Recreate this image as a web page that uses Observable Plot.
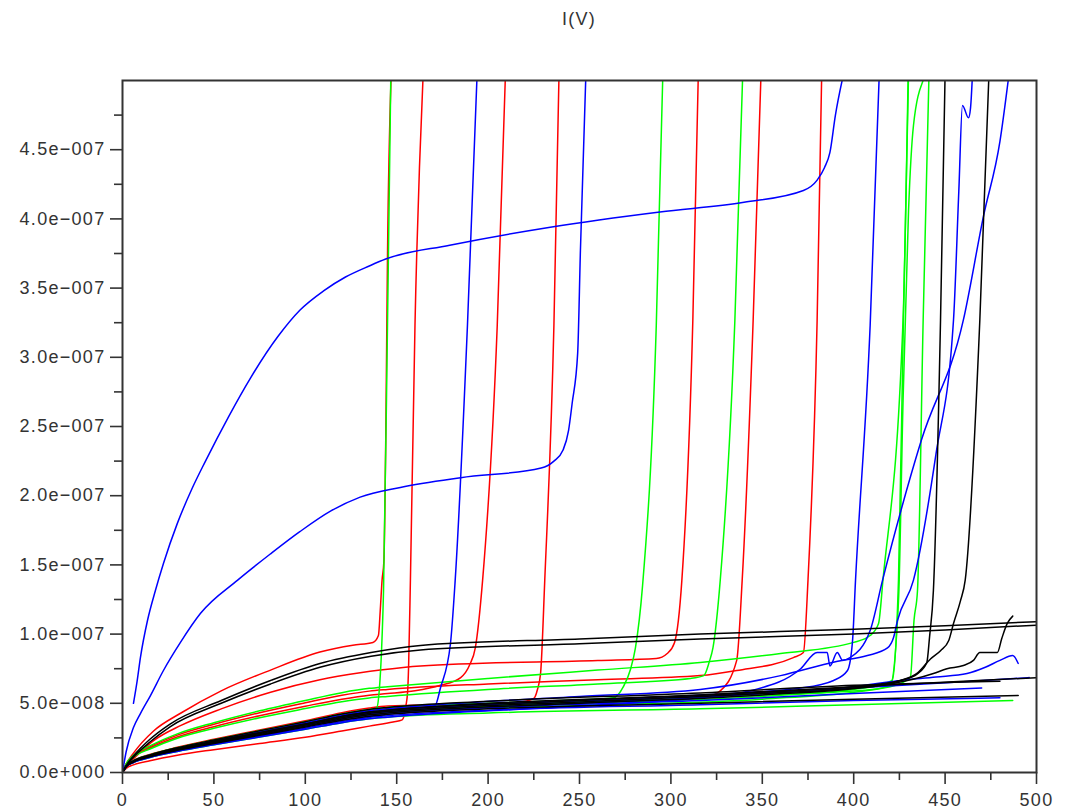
<!DOCTYPE html>
<html><head><meta charset="utf-8">
<script src="https://cdn.jsdelivr.net/npm/d3@7"></script>
<script src="https://cdn.jsdelivr.net/npm/@observablehq/plot@0.6"></script>
<style>
body{margin:0;background:#fff;font-family:"Liberation Sans",Arial,sans-serif;}
#title{height:40px;line-height:38px;width:1068px;text-align:center;padding-left:90px;box-sizing:border-box;font-size:18px;letter-spacing:1.3px;color:#333;}
</style></head><body>
<div id="title">I(V)</div>
<div id="chart"></div>
<script>
// Axis ticks and labels
const xMajor = [0,50,100,150,200,250,300,350,400,450,500];
const xLabels = ["0","50","100","150","200","250","300","350","400","450","500"];
const xMinor = [25,75,125,175,225,275,325,375,425,475];
const yMajor = [0,5e-8,1e-7,1.5e-7,2e-7,2.5e-7,3e-7,3.5e-7,4e-7,4.5e-7];
const yLabels = ["0.0e+000","5.0e\u2212008","1.0e\u2212007","1.5e\u2212007","2.0e\u2212007","2.5e\u2212007","3.0e\u2212007","3.5e\u2212007","4.0e\u2212007","4.5e\u2212007"];
const yMinor = [2.5e-8,7.5e-8,1.25e-7,1.75e-7,2.25e-7,2.75e-7,3.25e-7,3.75e-7,4.25e-7,4.75e-7];

// Curves: [V (volts), I (nA)]
const redA = [[0,0],[2,6],[6,14],[17,30],[32,43],[54,59],[81,74],[108,87],[126,92],[137,94],[140,99],[141,117],[142,139],[143,153],[144,240],[145,377],[147,505]];
const redB = [[0,0],[2,5],[6,10],[17,23],[32,34],[54,46],[81,58],[108,67],[130,72],[141,74],[163,77],[260,81],[292,82.4],[298,86],[302,94],[306,139],[312,327],[315,505]];
const redC = [[0,0],[2,3],[6,5.5],[15,8.5],[30,12.5],[50,16.5],[75,21],[100,25.5],[120,30],[135,33.5],[148,36.5],[153,38],[155,48],[156,59],[156.5,76],[157.5,139],[160,323],[164.5,505]];
const redD = [[0,0],[2,5.7],[6,11.4],[15,17.7],[30,25.7],[50,33.1],[75,41],[100,47.9],[120,53],[135,55.9],[145,57],[160,59],[174,63],[185,68.6],[190,78],[193,90],[197,139],[205,323],[209.5,505]];
const redE = [[0,0],[2,4.6],[6,8.3],[15,12.4],[30,17.5],[50,23],[75,29.4],[100,35.9],[120,41.4],[135,44.6],[145,46],[180,48],[216,50.6],[225,53.5],[227,60],[228.7,71.5],[231,139],[236,323],[238.8,505]];
const redF = [[0,0],[2,4.8],[6,8.6],[15,13],[30,18.2],[50,24],[75,30.7],[100,37.4],[120,43.2],[135,46.6],[145,48],[220,50],[300,52.5],[318,54],[327,59],[336,81],[339,139],[345,327],[349.3,505]];
const redG = [[0,0],[2,6],[6,12],[15,18.6],[30,27],[50,34.8],[75,43.2],[100,50.4],[120,55.8],[135,58.8],[145,60],[200,64],[260,67],[316,70],[336,73.7],[367,83],[372.5,86.7],[375,139],[380,327],[382.5,505]];

const greenA = [[0,0],[2,4.6],[6,8.3],[15,12.4],[30,17.5],[50,23],[75,29.4],[100,35.9],[120,41.4],[135,44.6],[139,46.5],[140.5,60],[141.7,88],[142.8,131.5],[145,327],[146.8,505]];
const greenB = [[0,0],[2,4.7],[6,8.5],[15,12.7],[30,17.9],[50,23.5],[75,30.1],[100,36.7],[120,42.3],[135,45.6],[145,47],[200,50],[250,52.5],[268.6,54],[274,62],[278,75],[280.6,90],[284.5,135],[292,323],[295.6,505]];
const greenC = [[0,0],[2,5.5],[6,11],[15,17],[30,24.8],[50,31.9],[75,39.6],[100,46.2],[120,51.2],[135,53.9],[145,55],[200,60],[260,64],[310.7,68],[318,70],[321,80],[323,90],[327,139],[335,327],[339.3,505]];
const greenD = [[0,0],[2,6.2],[6,12.4],[15,19.2],[30,27.9],[50,36],[75,44.6],[100,52.1],[120,57.7],[135,60.8],[145,62],[200,68],[260,74],[316,79.5],[360,86],[400,94],[409,99],[413.6,107.7],[416,139],[427,327],[429.8,505]];
const greenE = [[0,0],[2,4.4],[6,7.9],[15,11.9],[30,16.7],[50,22],[75,28.2],[100,34.3],[120,39.6],[135,42.7],[145,44],[250,50],[350,55],[410,62],[421,66.5],[424.5,139],[427.2,327],[430,505]];
const greenF = [[0,0],[2,4.3],[6,7.7],[15,11.6],[30,16.3],[50,21.5],[75,27.5],[100,33.5],[120,38.7],[135,41.7],[145,43],[250,48.5],[350,53],[420,62],[431,68.6],[433,110],[434.9,131.5],[438,327],[441.2,505]];
const greenG = [[0,0],[2,4.5],[6,8.1],[15,12.2],[30,17.1],[50,22.5],[75,28.8],[100,35.1],[120,40.5],[135,43.7],[145,45],[250,51],[350,56],[410,60],[420,63],[424.5,124],[427,269],[430,406],[432.7,467.5],[438,500],[440,505]];
const greenH = [[0,0],[2,4],[6,7.2],[15,10.8],[30,15.2],[50,20],[75,25.6],[100,31.2],[120,36],[135,38.8],[145,40],[200,43],[316,46],[400,49],[487,52]];

const blueA = [[6,50],[8,66],[9.8,83],[13.7,110],[18,131.5],[22.4,151],[30,180],[38,205],[45.4,225],[58,257],[70,285],[85,315],[97,334],[110,348],[122,358],[135,366],[144,371],[179,381],[234,394],[294,405],[340,412],[372.5,420.5],[380,428],[384,437],[387,448],[390,475],[394.5,505]];
const blueB = [[0,0],[2,15],[6,32.5],[9.8,42.6],[15.3,55.6],[22.4,73.7],[31.7,94],[42.7,115],[63,139],[81,158],[97,174],[114,189],[130,199],[152,206],[185,213],[229,220],[236,225],[241,233],[244,247],[246,267],[249,303],[250.5,377],[253.5,505]];
const blueC = [[0,0],[2,4.4],[6,7.9],[15,11.9],[30,16.7],[50,22],[75,28.2],[100,34.3],[120,39.6],[135,42.7],[145,44],[160,46],[171,48.4],[174,61.4],[179.4,93],[182,139],[188.7,323],[194,505]];
const blueD = [[0,0],[2,4.5],[6,8.1],[15,12.2],[30,17.1],[50,22.5],[75,28.8],[100,35.1],[120,40.5],[135,43.7],[145,45],[250,52],[316,56],[371,61],[389,66.5],[396.6,73.7],[399.3,94],[401,139],[409,323],[414,505]];
const blueE = [[0,0],[2,4],[6,7.2],[15,10.8],[30,15.2],[50,20],[75,25.6],[100,31.2],[120,36],[135,38.8],[145,40],[250,48],[316,54],[343.5,59],[371,75],[380,86.7],[385.5,86.7],[387,77],[391,86.7],[394,81],[398,83],[409,102.6],[415.8,139],[437,240],[460,327],[471,402],[480,456],[485,505]];
const blueF = [[0,0],[2,4.6],[6,8.3],[15,12.4],[30,17.5],[50,23],[75,29.4],[100,35.9],[120,41.4],[135,44.6],[145,46],[250,55],[316,60],[360,70],[390,80],[407.5,84.5],[418.5,90],[421.8,97.5],[424,110],[432.7,139],[445,230],[454.6,327],[457.5,420],[459.5,482],[462.8,473],[463.9,480],[465,505]];
const blueG = [[0,0],[2,4.2],[6,7.6],[15,11.3],[30,16],[50,21],[75,26.9],[100,32.8],[120,37.8],[135,40.7],[145,42],[250,50],[316,54],[350,57],[400,62],[425.6,66.5],[445,69],[462,71.5],[472,76],[480,81],[487,84.5],[490,78.8]];
const blueH = [[0,0],[2,4.4],[6,7.9],[15,11.9],[30,16.7],[50,22],[75,28.2],[100,34.3],[120,39.6],[135,42.7],[145,44],[200,49],[316,55],[400,61],[460,65.5],[496,68.6]];
const blueI = [[0,0],[2,4.3],[6,7.7],[15,11.6],[30,16.3],[50,21.5],[75,27.5],[100,33.5],[120,38.7],[135,41.7],[145,43],[200,47],[316,52],[400,57],[470,61]];
const blueJ = [[0,0],[2,4.1],[6,7.4],[15,11.1],[30,15.6],[50,20.5],[75,26.2],[100,32],[120,36.9],[135,39.8],[145,41],[200,45],[316,49],[400,52],[480,54]];

const blackA = [[0,0],[2,5],[6,12],[15,24],[26,35],[54,52],[81,66.5],[108,78.8],[136,86.7],[163,91.8],[250,96.5],[316,100],[400,103.5],[450,106],[500,109]];
const blackB = [[0,0],[2,4.5],[6,11],[15,22],[26,33],[54,50],[81,64],[108,76],[136,84],[163,88.5],[250,93],[316,96.5],[400,100],[450,103],[500,106.5]];
const blackC = [[0,0],[2,4.5],[6,8.1],[15,12.2],[30,17.1],[50,22.5],[75,28.8],[100,35.1],[120,40.5],[135,43.7],[145,45],[250,52],[350,58],[400,62],[425.6,66.5],[435,71.5],[440,79.5],[441.5,98],[443.6,131.5],[447.5,327],[450,505]];
const blackD = [[0,0],[2,4.4],[6,7.9],[15,11.9],[30,16.7],[50,22],[75,28.2],[100,34.3],[120,39.6],[135,42.7],[145,44],[250,51],[350,57],[400,61],[425.6,66.5],[435,72],[442,82],[447.5,88],[452,95.4],[454.6,107.7],[458.4,124],[461,139],[469,327],[474,505]];
const blackE = [[0,0],[2,4.3],[6,7.7],[15,11.6],[30,16.3],[50,21.5],[75,27.5],[100,33.5],[120,38.7],[135,41.7],[145,43],[250,50],[350,56],[420,64],[443.6,71.5],[451,75],[460,77.3],[465.5,81],[469,86.7],[478.6,86.7],[481,96.8],[484,107.7],[487,113]];
const blackF = [[0,0],[2,4.5],[6,8.1],[15,12.2],[30,17.1],[50,22.5],[75,28.8],[100,35.1],[120,40.5],[135,43.7],[145,45],[200,50],[316,56],[400,62],[460,66],[500,68.5]];
const blackG = [[0,0],[2,4.2],[6,7.6],[15,11.3],[30,16],[50,21],[75,26.9],[100,32.8],[120,37.8],[135,40.7],[145,42],[200,46],[316,50],[400,53],[490,55.6]];
const blackH = [[0,0],[2,4.7],[6,8.5],[15,12.7],[30,17.9],[50,23.5],[75,30.1],[100,36.7],[120,42.3],[135,45.6],[145,47],[200,51.5],[316,57.5],[400,63],[480,66]];

const redSeries = [redA, redB, redC, redD, redE, redF, redG];
const greenSeries = [greenA, greenB, greenC, greenD, greenE, greenF, greenG, greenH];
const blueSeries = [blueA, blueB, blueC, blueD, blueE, blueF, blueG, blueH, blueI, blueJ];
const blackSeries = [blackA, blackB, blackC, blackD, blackE, blackF, blackG, blackH];

const groups = [["#ff0000", redSeries], ["#00ff00", greenSeries], ["#0000ff", blueSeries], ["#000000", blackSeries]];
const rows = [];
let sid = 0;
for (const [color, list] of groups) {
  for (const pts of list) {
    for (const [v, n] of pts) rows.push({id: sid, color, V: v, I: n * 1e-9});
    sid++;
  }
}
const yLab = new Map(yMajor.map((d, i) => [d, yLabels[i]]));
const xLab = new Map(xMajor.map((d, i) => [d, xLabels[i]]));

const chart = Plot.plot({
  width: 1068, height: 769,
  marginTop: 40, marginLeft: 122, marginRight: 32, marginBottom: 37,
  x: {domain: [0, 500]},
  y: {domain: [0, 5e-7]},
  color: {type: "identity"},
  style: {fontFamily: "'Liberation Sans', Arial, sans-serif", fontSize: "18px", color: "#333", background: "#fff", letterSpacing: "1.3px"},
  marks: [
    Plot.line(rows, {x: "V", y: "I", z: "id", stroke: "color", strokeWidth: 1.5, curve: "monotone-x", clip: true}),
    Plot.frame({stroke: "#333", strokeWidth: 2}),
    Plot.axisY({ticks: yMajor, tickSize: 12, tickPadding: 5, strokeWidth: 1.6, tickFormat: d => yLab.get(d), label: null}),
    Plot.axisY({ticks: yMinor, tickSize: 8, strokeWidth: 1.6, tickFormat: () => "", label: null}),
    Plot.axisX({ticks: xMajor, tickSize: 12, tickPadding: 9, strokeWidth: 1.6, tickFormat: d => xLab.get(d), label: null}),
    Plot.axisX({ticks: xMinor, tickSize: 8, strokeWidth: 1.6, tickFormat: () => "", label: null})
  ]
});
document.getElementById("chart").appendChild(chart);
</script>
</body></html>
